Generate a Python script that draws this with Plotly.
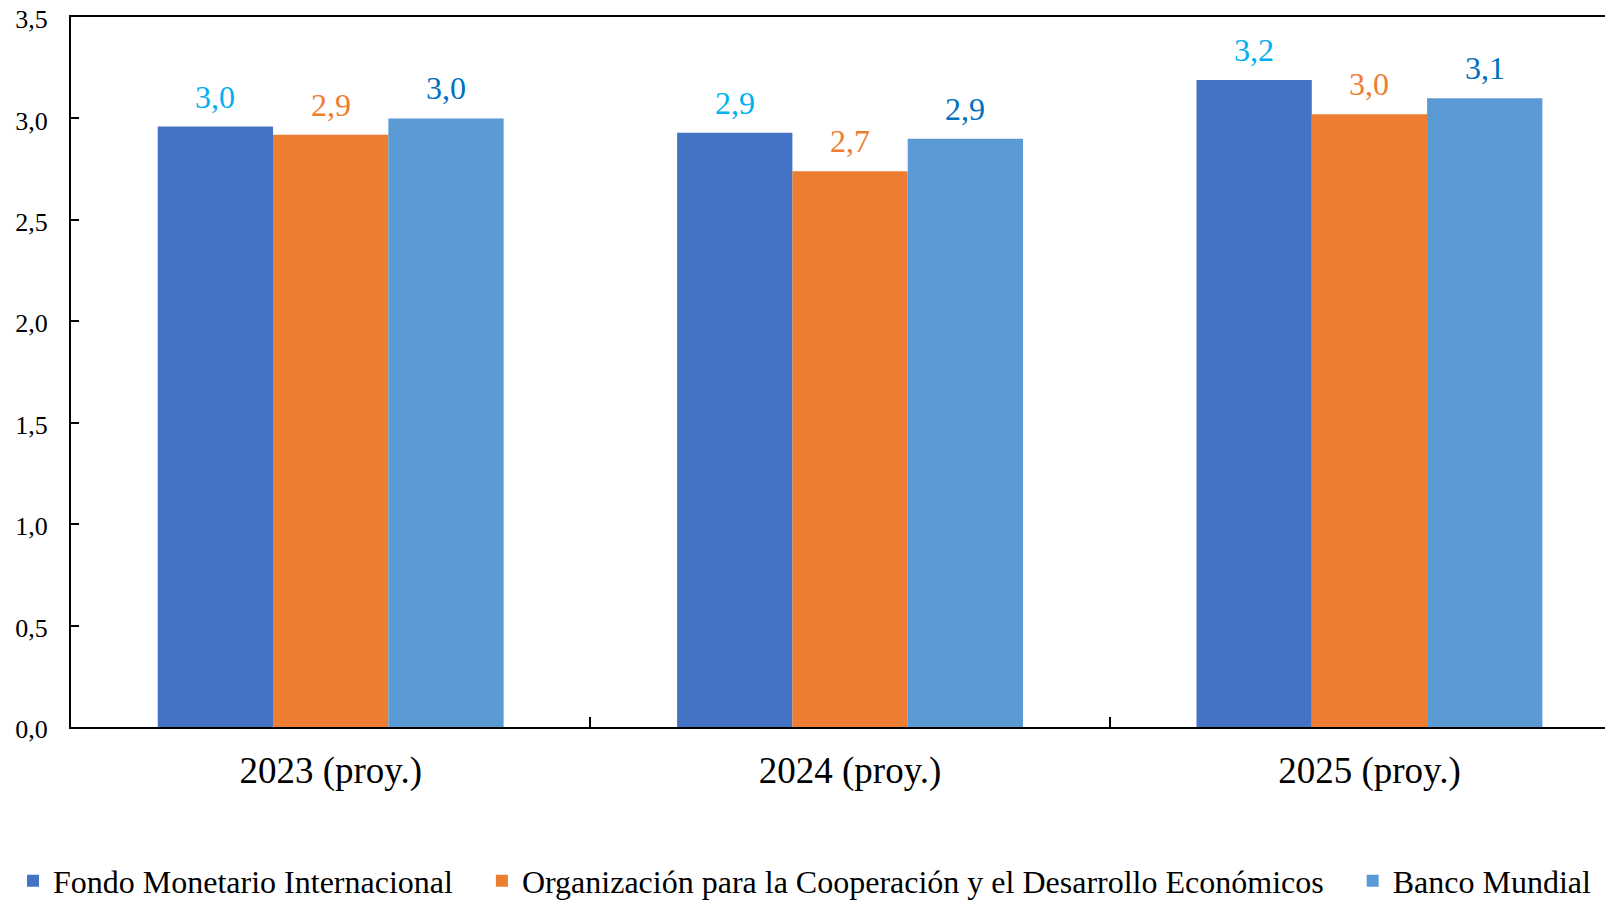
import plotly.graph_objects as go

categories = ["2023 (proy.)", "2024 (proy.)", "2025 (proy.)"]
series_names = [
    "Fondo Monetario Internacional",
    "Organización para la Cooperación y el Desarrollo Económicos",
    "Banco Mundial",
]
fmi = [2.96, 2.93, 3.19]
ocde = [2.92, 2.74, 3.02]
bm = [3.00, 2.90, 3.10]
y_ticks = [0, 0.5, 1.0, 1.5, 2.0, 2.5, 3.0, 3.5]

bar_colors = ["#4472C4", "#ED7D31", "#5B9BD5"]
label_colors = ["#00B0F0", "#ED7D31", "#0070C0"]
FONT = "Liberation Serif"

# the page body adds an 8px margin, so the figure is a bit smaller than the window
W, H = 1605, 892
ML, MR, MT, MB = 63, 0, 9, 173
X_RANGE = [-0.5, 2.469]
BARGAP = 0.334

plot_w = W - ML - MR
plot_h = H - MT - MB
# pixel width of one bar, used to shift value labels over their bar
cat_px = plot_w / (X_RANGE[1] - X_RANGE[0])
bar_px = cat_px * (1 - BARGAP) / 3

fig = go.Figure()
all_vals = [fmi, ocde, bm]
pads = ["\u00a0" * 3, "\u00a0" * 3, ""]
for name, vals, bc, pad in zip(series_names, all_vals, bar_colors, pads):
    fig.add_trace(go.Bar(
        x=categories,
        y=vals,
        name=name + pad,
        marker=dict(color=bc, line=dict(width=0)),
    ))

for i, (vals, lc) in enumerate(zip(all_vals, label_colors)):
    for cat, v in zip(categories, vals):
        fig.add_annotation(
            x=cat, y=v,
            text=f"{v:.1f}".replace(".", ","),
            showarrow=False,
            xshift=(i - 1) * bar_px,
            yanchor="bottom",
            yshift=10,
            font=dict(family=FONT, size=32, color=lc),
        )

fig.update_layout(
    width=W,
    height=H,
    barmode="group",
    bargap=BARGAP,
    bargroupgap=0,
    separators=",.",
    plot_bgcolor="white",
    paper_bgcolor="white",
    font=dict(family=FONT, color="black"),
    margin=dict(l=ML, r=MR, t=MT, b=MB, autoexpand=False),
    showlegend=True,
    legend=dict(
        orientation="h",
        x=(5 - ML) / plot_w,
        y=-(873 - (H - MB)) / plot_h,
        xanchor="left",
        yanchor="middle",
        font=dict(family=FONT, size=32, color="black"),
        traceorder="normal",
    ),
)

fig.update_xaxes(
    range=X_RANGE,
    automargin=False,
    showline=True,
    linecolor="black",
    linewidth=2,
    mirror=True,
    ticks="inside",
    tickson="boundaries",
    ticklen=10,
    tickwidth=2,
    tickcolor="black",
    tickfont=dict(family=FONT, size=37, color="black"),
    ticklabelstandoff=10,
    showgrid=False,
)
fig.update_yaxes(
    range=[0, 3.5],
    automargin=False,
    tickvals=y_ticks,
    tickformat=".1f",
    ticklabeloverflow="allow",
    ticklabelshift=2,
    showline=True,
    linecolor="black",
    linewidth=2,
    ticks="inside",
    ticklen=8,
    tickwidth=2,
    tickcolor="black",
    tickfont=dict(family=FONT, size=26, color="black"),
    ticklabelstandoff=16,
    showgrid=False,
    zeroline=False,
)

fig.write_html("out.html")
